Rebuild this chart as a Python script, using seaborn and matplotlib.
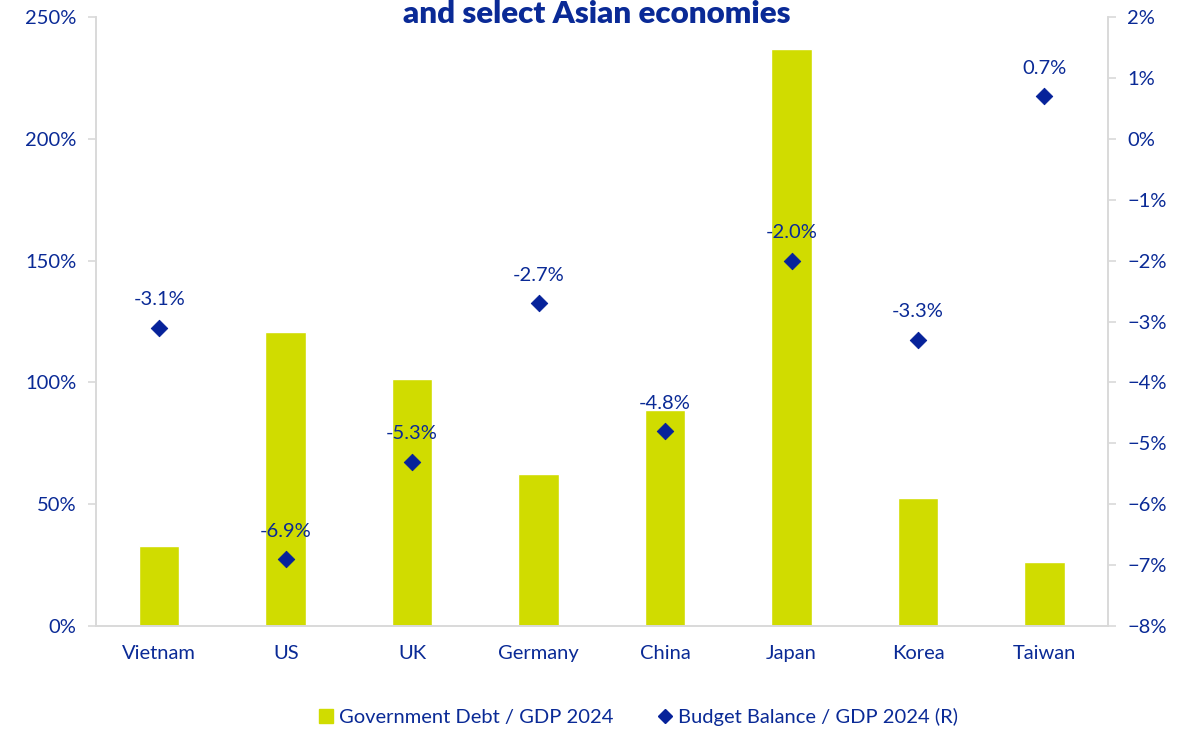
import matplotlib
matplotlib.use("Agg")
import matplotlib.pyplot as plt
import seaborn as sns
import pandas as pd
from matplotlib.ticker import FuncFormatter
from matplotlib.lines import Line2D
from matplotlib.patches import Patch

countries = ["Vietnam", "US", "UK", "Germany", "China", "Japan", "Korea", "Taiwan"]
debt_gdp = [33.0, 120.7, 101.4, 62.3, 88.6, 236.9, 52.7, 26.3]
budget_balance = [-3.1, -6.9, -5.3, -2.7, -4.8, -2.0, -3.3, 0.7]
title_text = "and select Asian economies"
debt_label = "Government Debt / GDP 2024"
balance_label = "Budget Balance / GDP 2024 (R)"

BAR = "#D0DC00"
NAVY = "#0A2A96"
MARK = "#06229A"
GRID = "#D9D9D9"
FS = 14.5

sns.set_theme(style="white")
plt.rcParams["font.family"] = ["Lato", "DejaVu Sans"]

df = pd.DataFrame({"country": countries, "debt": debt_gdp, "balance": budget_balance})

fig = plt.figure(figsize=(11.93, 7.30), dpi=100)
ax = fig.add_axes([0.0805, 0.1425, 0.848, 0.834])
sns.barplot(data=df, x="country", y="debt", color=BAR, width=0.32, ax=ax, saturation=1)
ax.set_ylim(0, 250)
ax.set_yticks([0, 50, 100, 150, 200, 250])
ax.yaxis.set_major_formatter(FuncFormatter(lambda v, p: f"{v:.0f}%"))
ax.set_xlim(-0.5, 7.5)
ax.set_xlabel("")
ax.set_ylabel("")

ax2 = ax.twinx()
sns.scatterplot(data=df, x="country", y="balance", marker="D", s=70, color=MARK,
                edgecolor=MARK, ax=ax2, zorder=5)
ax2.set_ylim(-8, 2)
ax2.set_yticks(range(-8, 3))
ax2.yaxis.set_major_formatter(FuncFormatter(lambda v, p: f"{v:.0f}%".replace("-", "\u2212")))
ax2.set_ylabel("")
ax2.set_xlim(-0.5, 7.5)

for i, v in enumerate(budget_balance):
    ax2.annotate(f"{v:.1f}%", (i, v), xytext=(0, 14), textcoords="offset points",
                 ha="center", va="bottom", color=NAVY, fontsize=FS)

for a in (ax, ax2):
    for s in a.spines.values():
        s.set_color(GRID)
        s.set_linewidth(1.2)
    a.spines["top"].set_visible(False)
    a.tick_params(axis="y", colors=GRID, labelcolor=NAVY, labelsize=FS, length=6, width=1.2)
    a.tick_params(axis="x", colors=GRID, labelcolor=NAVY, labelsize=FS, length=0, pad=14)
ax.tick_params(axis="y", direction="out", pad=8)
ax2.tick_params(axis="y", direction="out", pad=8)

fig.text(0.5, 1.0, title_text, ha="center", va="top", color=NAVY,
         fontsize=22.5, fontweight="heavy")

handles = [Patch(facecolor=BAR, edgecolor=BAR, label=debt_label),
           Line2D([], [], marker="D", color=MARK, linestyle="none", markersize=7, label=balance_label)]
fig.legend(handles=handles, loc="center", bbox_to_anchor=(0.535, 0.018), ncol=2, frameon=False,
           fontsize=FS, labelcolor=NAVY, handlelength=0.7, handleheight=0.7, handletextpad=0.3,
           columnspacing=2.2)

fig.savefig("out.png", dpi=100)
